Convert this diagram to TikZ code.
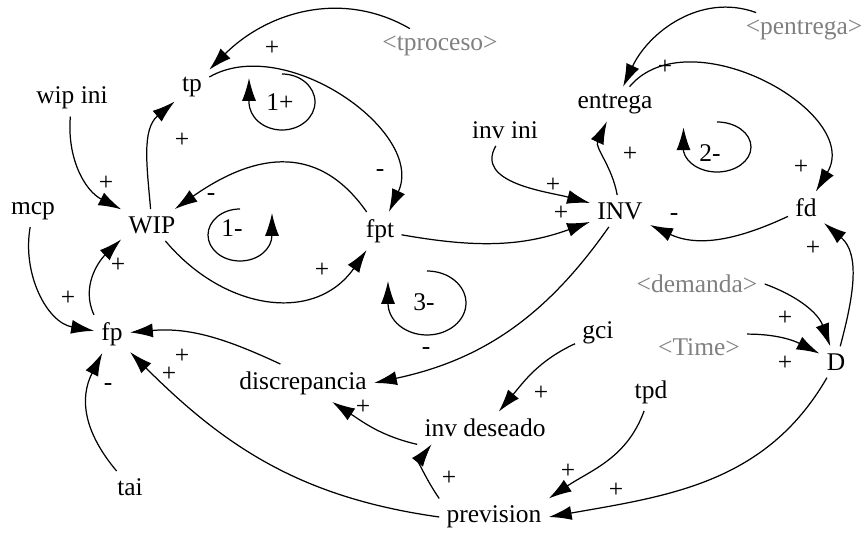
\documentclass[tikz,border=0pt]{standalone}
\usepackage{fontspec}
\setmainfont{Liberation Serif}
\usetikzlibrary{arrows.meta}

\begin{document}
\begin{tikzpicture}[x=0.02cm, y=0.02cm,
			font=\fontsize{14.5}{17}\selectfont,
			var/.style={inner sep=4pt},
			shadow/.style={var, text=black!50},
			link/.style={-{Latex[length=13pt,width=8pt]}, line width=0.7pt},
			pol/.style={inner sep=0pt}]
			
			\useasboundingbox (0,0) rectangle (866,-533);
			
			%Nodes
			\node (tp) at (192,-87) [var]{tp};
			\node (wipini) at (72,-98) [var]{wip ini};
			\node (tproceso) at (440,-46) [shadow]{<tproceso>};
			\node (wip) at (152,-225) [var]{WIP};
			\node (mcp) at (33,-211) [var]{mcp};
			\node (fpt) at (380,-231) [var]{fpt};
			\node (pentrega) at (804,-30) [shadow]{<pentrega>};
			\node (entrega) at (615,-104) [var]{entrega};
			\node (invini) at (505,-130) [var]{inv ini};
			\node (inv) at (620,-211) [var]{INV};
			\node (fd) at (806,-208) [var]{fd};
			\node (fp) at (112,-334) [var]{fp};
			\node (discrepancia) at (303,-383) [var]{discrepancia};
			\node (tai) at (130,-487) [var]{tai};
			\node (demanda) at (697,-284) [shadow]{<demanda>};
			\node (gci) at (598,-333) [var]{gci};
			\node (time) at (699,-347) [shadow]{<Time>};
			\node (d) at (836,-362) [var]{D};
			\node (tpd) at (651,-392) [var]{tpd};
			\node (invdeseado) at (485,-428) [var]{inv deseado};
			\node (prevision) at (494,-517) [var]{prevision};
			
			%Links
			\draw[link] (tproceso) to[out=150,in=45] (tp);
			\draw[link] (tp) to[out=30,in=65] (fpt);
			\draw[link] (wip) to[out=95,in=-140] (tp);
			\draw[link] (wipini) to[out=-95,in=153] (wip);
			\draw[link] (fpt) to[out=125,in=35,looseness=1.2] (wip);
			\draw[link] (wip) to[out=-50,in=-125,looseness=1.15] (fpt);
			\draw[link] (mcp) to[out=-100,in=170] (fp);
			\draw[link] (fp.north west) to[out=115,in=-136] (wip.-155);
			\draw[link] (fpt) to[out=-10,in=-160] (inv);
			\draw[link] (invini) to[out=-120,in=165] (inv);
			\draw[link] (inv) to[out=100,in=-115] (entrega);
			\draw[link] (pentrega) to[out=160,in=65] (entrega);
			\draw[link] (entrega) to[out=50,in=59,looseness=1.1] (fd);
			\draw[link] (fd) to[out=-155,in=-25] (inv);
			\draw[link] (d) to[out=75,in=-40] (fd);
			\draw[link] (demanda.east) to[out=-20,in=110] (d);
			\draw[link] (time.15) to[out=0,in=153] (d);
			\draw[link] (d) to[out=-120,in=10] (prevision.east);
			\draw[link] (tpd) to[out=-110,in=34] (prevision.north east);
			\draw[link] (gci) to[out=-155,in=50] (invdeseado);
			\draw[link] (prevision.north west) to[out=125,in=-128] (invdeseado.-163);
			\draw[link] (invdeseado.south west) to[out=167,in=-33] (discrepancia);
			\draw[link] (inv) to[out=-125,in=12] (discrepancia.east);
			\draw[link] (discrepancia.140) to[out=155,in=5] (fp);
			\draw[link] (prevision.west) to[out=172,in=-45] (fp);
			\draw[link] (tai) to[out=130,in=-117,looseness=1.1] (fp);
			
			%Loops
			\draw[link] (282,-74) arc[start angle=90, end angle=-180, x radius=33, y radius=28] -- ++(0,24);
			\draw[link] (240,-209) arc[start angle=90, end angle=360, x radius=32, y radius=26] -- ++(0,22);
			\draw[link] (717,-122) arc[start angle=90, end angle=-170, x radius=34, y radius=25] -- ++(0,24);
			\draw[link] (427,-271) arc[start angle=90, end angle=-180, x radius=39, y radius=32] -- ++(0,22);
			\node (loopa) at (280,-102) {1+};
			\node (loopb) at (232,-228) {1-};
			\node (loopc) at (710,-153) {2-};
			\node (loopd) at (424,-302) {3-};
			
			%Polarities
			\node[pol] at (272,-48) {+};
			\node[pol] at (182,-140) {+};
			\node[pol] at (106,-183) {+};
			\node[pol] at (380,-173) {-};
			\node[pol] at (211,-197) {-};
			\node[pol] at (118,-265) {+};
			\node[pol] at (68,-298) {+};
			\node[pol] at (322,-270) {+};
			\node[pol] at (182,-356) {+};
			\node[pol] at (169,-374) {+};
			\node[pol] at (108,-387) {-};
			\node[pol] at (363,-407) {+};
			\node[pol] at (426,-351) {-};
			\node[pol] at (665,-67) {+};
			\node[pol] at (630,-154) {+};
			\node[pol] at (553,-185) {+};
			\node[pol] at (561,-213) {+};
			\node[pol] at (674,-217) {-};
			\node[pol] at (801,-167) {+};
			\node[pol] at (813,-248) {+};
			\node[pol] at (785,-318) {+};
			\node[pol] at (785,-363) {+};
			\node[pol] at (541,-393) {+};
			\node[pol] at (449,-478) {+};
			\node[pol] at (568,-471) {+};
			\node[pol] at (616,-490) {+};
			
\end{tikzpicture}
\end{document}
